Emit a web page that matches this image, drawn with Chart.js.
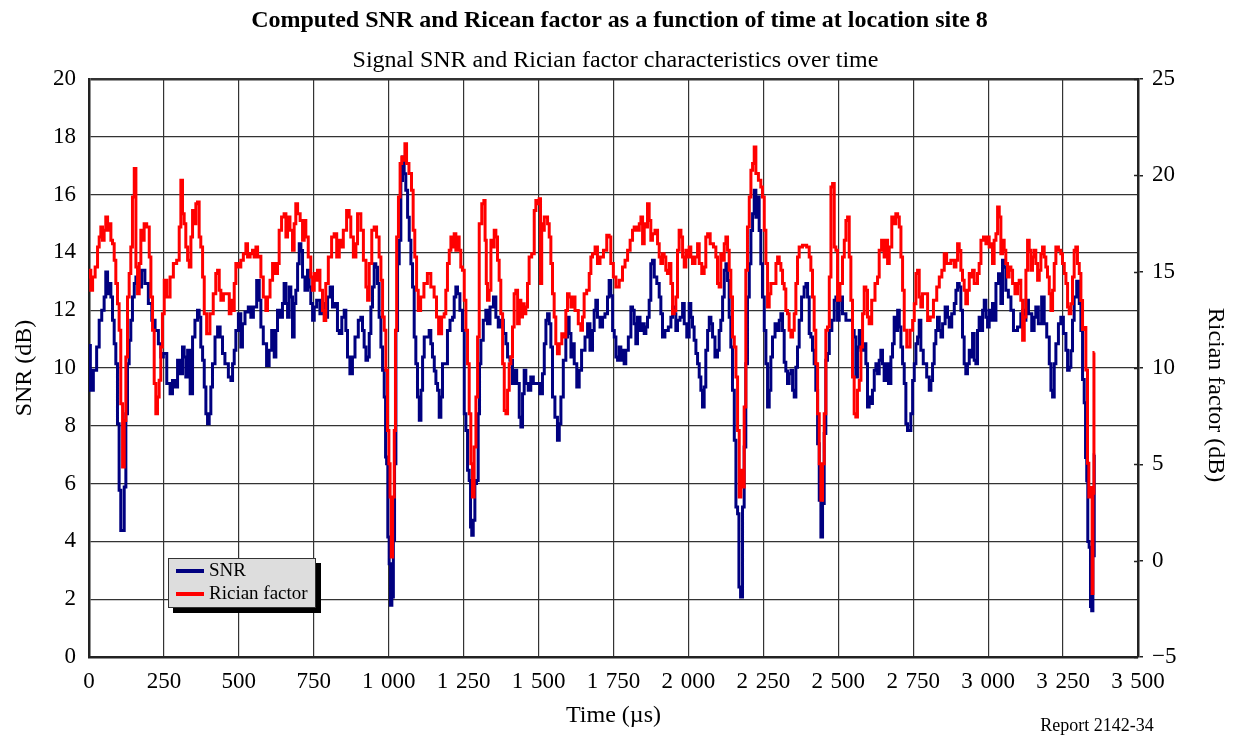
<!DOCTYPE html>
<html>
<head>
<meta charset="utf-8">
<script src="https://cdn.jsdelivr.net/npm/chart.js@4.4.1/dist/chart.umd.min.js"></script>
<style>
  html, body { margin: 0; padding: 0; background: #ffffff; }
  canvas { display: block; }
</style>
</head>
<body>
<canvas id="chart" width="1237" height="736"></canvas>
<script>
// Time samples (µs) and SNR values (dB)
const snrTime = [0,9,20,31,37,48,53,59,65,70,76,81,87,92,98,103,109,115,120,126,131,137,142,148,154,159,170,181,192,204,215,226,237,242,254,265,276,281,293,298,309,315,320,326,332,343,348,359,365,370,376,382,387,393,398,404,409,415,426,432,443,448,459,471,476,482,487,493,504,509,515,526,537,543,554,565,571,576,587,598,604,615,621,626,632,643,648,654,660,665,671,676,682,687,693,699,704,710,715,726,732,737,743,749,754,765,776,787,793,799,810,815,826,832,838,849,854,860,865,876,882,893,904,910,915,921,927,932,938,943,949,954,960,965,971,977,982,988,991,995,999,1004,1008,1013,1018,1021,1027,1032,1038,1043,1049,1054,1060,1066,1071,1077,1082,1088,1093,1099,1105,1110,1116,1121,1132,1138,1143,1149,1155,1160,1166,1171,1177,1182,1193,1199,1210,1216,1221,1227,1232,1243,1249,1255,1260,1266,1271,1275,1279,1285,1290,1296,1301,1305,1310,1321,1327,1332,1344,1355,1360,1371,1377,1388,1394,1399,1410,1416,1421,1433,1438,1444,1449,1455,1460,1471,1477,1488,1499,1510,1516,1522,1527,1533,1538,1544,1549,1560,1566,1572,1577,1588,1594,1599,1605,1611,1616,1622,1633,1638,1649,1661,1666,1677,1683,1688,1694,1699,1711,1716,1727,1733,1738,1744,1750,1755,1761,1766,1772,1777,1783,1788,1794,1805,1811,1816,1822,1827,1833,1844,1850,1855,1861,1866,1872,1877,1883,1889,1900,1905,1911,1916,1927,1939,1944,1950,1955,1961,1966,1978,1983,1989,2000,2005,2011,2016,2022,2028,2033,2039,2044,2050,2055,2061,2067,2072,2078,2083,2094,2100,2105,2111,2117,2122,2128,2133,2139,2144,2150,2156,2161,2167,2170,2178,2183,2189,2194,2200,2206,2211,2217,2222,2228,2233,2239,2244,2250,2256,2261,2267,2272,2278,2283,2295,2300,2306,2311,2317,2322,2328,2333,2339,2345,2350,2356,2361,2367,2372,2383,2389,2395,2400,2406,2411,2417,2422,2428,2434,2439,2445,2450,2456,2461,2467,2473,2484,2489,2495,2500,2506,2511,2517,2534,2545,2550,2556,2561,2567,2573,2578,2589,2595,2600,2606,2611,2617,2623,2628,2634,2639,2645,2650,2656,2662,2673,2678,2684,2689,2695,2701,2706,2712,2717,2723,2728,2734,2739,2745,2751,2756,2762,2767,2773,2778,2789,2801,2806,2812,2817,2823,2828,2834,2840,2845,2851,2862,2867,2873,2884,2890,2895,2901,2906,2912,2917,2923,2928,2934,2940,2945,2951,2956,2962,2967,2973,2979,2984,2990,2995,3001,3006,3012,3017,3023,3029,3040,3045,3051,3056,3062,3073,3079,3090,3106,3112,3118,3123,3129,3140,3151,3156,3162,3173,3184,3190,3201,3207,3212,3218,3223,3229,3240,3245,3257,3262,3268,3273,3279,3284,3290,3301,3307,3312,3318,3323,3327,3331,3334,3340,3343,3348,3351,3357];
const snrDb = [10.78,9.23,9.92,10.73,11.65,12.0,12.46,13.32,12.57,12.92,12.46,11.65,10.84,10.15,8.07,5.77,4.38,4.38,5.88,8.42,10.15,10.96,11.65,12.46,12.92,13.15,12.8,13.38,12.92,12.23,11.65,11.3,10.84,10.38,10.5,9.46,9.11,9.57,9.34,10.27,9.8,10.73,10.38,9.69,10.61,9.11,11.07,11.65,12.0,11.76,10.73,10.27,9.34,8.42,8.07,8.42,9.34,10.15,11.07,11.42,11.07,10.5,10.15,9.69,9.57,10.15,10.61,11.3,11.88,10.73,11.53,11.94,12.11,11.76,12.11,13.03,12.34,11.42,10.84,10.09,10.61,11.3,10.38,11.3,12.0,11.76,12.23,12.92,12.23,11.76,12.8,12.46,11.07,12.23,12.69,13.61,14.3,14.07,13.15,12.69,13.38,12.8,12.23,11.65,12.11,12.34,11.88,12.23,11.76,12.46,12.8,12.11,12.23,11.3,11.19,11.76,12.0,11.3,10.38,9.8,10.38,11.07,11.65,11.76,11.3,10.73,10.27,10.38,11.19,12.11,12.8,13.61,13.49,12.92,11.76,10.73,9.92,9.0,6.92,6.69,4.15,3.23,1.79,2.08,4.04,6.69,11.3,13.61,14.42,16.49,17.3,16.72,16.15,15.22,14.42,13.61,12.8,11.07,10.15,9.0,8.19,9.23,10.38,11.07,11.07,11.3,10.84,10.38,9.9,9.46,9.23,8.3,9.0,10.15,10.15,11.3,11.65,11.76,12.46,12.8,12.57,12.0,11.3,8.42,7.84,6.46,6.11,4.5,4.21,4.73,6.0,6.11,8.42,10.15,10.96,11.65,12.0,11.53,12.11,12.46,11.76,11.42,11.65,11.19,10.84,10.38,10.27,9.46,9.92,9.46,8.3,7.96,9.11,9.92,9.46,9.23,9.69,9.46,9.46,9.11,9.8,10.84,11.65,11.88,11.53,10.73,9.0,8.3,7.5,8.07,9.0,10.27,11.07,11.76,11.19,10.38,10.84,10.15,9.34,9.92,10.61,11.07,11.53,10.61,11.3,12.0,12.34,11.76,11.42,11.76,11.88,12.46,13.03,12.5,11.3,11.07,10.38,10.27,10.73,10.27,10.61,10.15,10.61,11.07,12.11,12.0,11.53,10.84,11.76,11.3,11.53,11.19,11.42,11.76,12.34,13.61,13.73,13.15,12.92,12.46,11.88,11.07,11.3,11.42,11.76,12.11,11.88,11.3,11.65,11.76,12.23,11.53,11.07,12.23,11.76,11.42,10.96,10.5,10.15,9.69,9.23,8.65,9.34,10.61,11.3,11.76,11.53,11.07,10.38,10.61,11.3,11.65,12.46,13.38,13.61,13.03,11.76,10.73,9.23,7.5,5.19,4.96,2.42,2.08,5.19,7.27,10.15,12.46,13.61,14.76,15.34,16.15,15.22,15.92,14.76,13.61,12.46,11.3,10.15,8.65,9.23,10.38,11.07,11.53,11.3,11.65,11.88,11.3,10.2,9.9,9.46,9.8,9.92,9.23,9.0,10.03,10.73,11.65,12.46,12.8,12.92,12.46,11.19,11.07,10.61,10.15,9.23,7.38,5.42,4.15,5.31,7.73,10.27,10.5,11.3,11.65,12.34,12.46,11.65,12.34,12.46,11.88,11.65,11.65,11.3,11.07,9.69,10.73,11.3,10.61,10.84,10.15,8.65,9.0,8.77,9.23,9.92,10.15,9.8,10.27,10.61,10.15,9.57,10.15,9.46,10.38,10.84,11.76,11.3,12.0,11.42,10.73,10.15,9.46,8.07,7.84,7.84,8.42,9.57,10.15,10.84,11.07,11.65,10.61,10.15,9.69,9.23,9.57,10.15,10.84,11.3,11.76,11.3,11.07,11.53,12.11,11.76,11.42,11.88,12.23,12.69,12.92,12.8,12.0,11.07,10.15,9.8,10.15,10.61,10.38,11.19,10.27,10.15,11.3,11.76,11.3,12.0,12.34,11.76,11.42,12.0,11.65,12.23,11.65,12.92,13.26,12.23,13.73,13.49,12.69,12.46,12.0,11.3,11.42,11.88,12.0,11.65,12.34,11.88,11.3,11.76,12.11,11.53,12.46,11.53,11.07,10.15,9.23,9.0,10.15,10.84,11.53,11.76,11.19,10.61,9.92,10.03,10.6,11.65,12.46,13.0,12.23,11.3,9.6,8.8,6.9,6.1,4.0,3.8,1.75,1.6,3.5,7.0];

// Time samples (µs) and Rician factor values (dB)
const ricianTime = [0,3,9,15,26,31,37,42,48,53,59,65,70,76,81,87,92,98,103,109,115,120,126,131,137,142,148,154,159,165,170,176,181,187,198,204,209,215,220,226,231,237,242,248,254,265,276,287,298,304,309,315,320,326,332,337,343,348,354,359,365,370,376,382,387,398,409,420,426,432,437,443,454,465,471,476,482,487,493,504,509,521,526,532,543,548,554,560,565,571,576,587,593,598,610,615,626,632,637,648,654,660,665,676,682,687,693,699,710,715,721,726,737,743,749,754,760,765,776,782,787,793,804,815,821,832,838,843,854,865,871,876,888,893,899,904,910,921,927,932,938,949,954,965,971,977,982,988,993,999,1002,1007,1010,1016,1021,1024,1029,1036,1040,1047,1051,1057,1062,1073,1079,1084,1090,1096,1101,1112,1123,1135,1146,1157,1162,1171,1182,1188,1193,1199,1205,1210,1216,1221,1227,1232,1238,1243,1249,1255,1260,1266,1271,1277,1282,1288,1294,1299,1305,1316,1319,1324,1327,1332,1338,1344,1349,1355,1360,1366,1371,1377,1383,1388,1394,1399,1405,1410,1416,1421,1427,1433,1438,1444,1449,1455,1460,1466,1471,1483,1488,1494,1499,1505,1508,1513,1516,1522,1527,1533,1538,1544,1549,1555,1560,1566,1572,1583,1588,1594,1599,1605,1611,1616,1627,1638,1644,1649,1655,1666,1672,1677,1683,1694,1699,1711,1722,1733,1738,1744,1755,1761,1777,1783,1794,1800,1811,1816,1822,1833,1839,1844,1850,1855,1861,1866,1872,1877,1883,1894,1900,1905,1911,1916,1922,1927,1933,1939,1944,1950,1955,1961,1966,1972,1978,1983,1989,1994,2000,2005,2011,2016,2028,2033,2039,2050,2055,2061,2067,2078,2089,2094,2100,2105,2111,2117,2122,2128,2133,2139,2144,2150,2156,2161,2167,2172,2178,2183,2189,2194,2200,2206,2211,2217,2222,2228,2239,2244,2250,2256,2261,2267,2272,2278,2289,2295,2300,2306,2311,2317,2322,2328,2333,2339,2345,2350,2356,2361,2367,2372,2389,2400,2406,2411,2417,2422,2428,2434,2439,2445,2450,2456,2461,2467,2473,2478,2484,2489,2495,2500,2511,2517,2523,2528,2534,2539,2545,2550,2556,2561,2567,2573,2578,2584,2589,2595,2600,2606,2617,2628,2634,2639,2650,2656,2662,2667,2673,2684,2689,2695,2701,2706,2712,2717,2723,2734,2745,2751,2756,2762,2767,2773,2778,2784,2795,2801,2812,2823,2834,2840,2851,2856,2867,2884,2890,2895,2901,2906,2912,2917,2923,2928,2934,2940,2945,2951,2956,2962,2967,2973,2979,2990,2995,3001,3006,3012,3017,3023,3029,3034,3040,3045,3051,3056,3062,3067,3073,3079,3084,3095,3101,3106,3112,3118,3123,3129,3134,3140,3145,3151,3156,3162,3168,3173,3179,3184,3190,3195,3201,3207,3212,3218,3223,3229,3240,3245,3251,3257,3262,3268,3273,3279,3284,3290,3295,3301,3307,3312,3318,3323,3329,3334,3338,3342,3346,3348,3351,3355];
const ricianDb = [14.72,15.07,14.03,14.72,15.24,16.28,16.8,17.32,16.63,17.15,17.84,17.15,17.49,16.63,16.45,15.59,14.38,13.34,11.96,8.15,4.86,7.28,10.57,13.69,14.9,16.28,18.88,20.35,15.24,13.86,15.42,17.15,16.63,17.49,17.32,15.76,13.69,11.96,9.19,7.63,8.49,9.36,11.09,12.82,14.55,13.69,14.72,15.42,15.59,17.32,19.74,18.01,17.49,16.28,15.59,15.24,16.8,18.18,17.49,18.53,18.62,16.8,16.28,14.72,12.82,11.78,12.82,13.86,14.9,15.07,14.03,13.51,13.86,13.86,12.82,13.51,12.99,14.38,15.42,15.24,15.59,15.93,16.45,15.76,15.93,16.11,15.76,16.28,15.76,15.8,14.72,13.69,12.99,13.69,14.55,15.42,14.9,15.42,17.15,17.84,18.01,16.8,17.84,17.15,16.11,17.49,18.53,18.01,17.66,16.63,17.66,16.8,15.76,14.72,14.03,14.9,14.55,15.07,14.03,12.99,12.47,14.38,15.76,16.8,16.97,15.76,16.63,16.28,17.15,18.18,17.84,16.8,15.76,16.45,18.01,18.01,17.15,15.59,14.2,13.51,15.42,17.15,17.32,16.8,15.76,14.55,12.65,11.96,9.88,6.76,5.03,3.3,0.19,3.3,6.76,11.96,16.8,18.88,20.61,20.95,20.78,21.64,20.61,20.09,19.22,17.15,15.76,14.03,12.99,13.69,14.38,14.9,14.2,13.69,12.65,11.78,12.65,12.82,14.03,15.42,16.11,16.8,16.28,16.97,16.11,16.8,16.11,15.24,15.07,13.51,11.96,10.22,7.63,5.03,3.3,5.9,8.49,11.61,17.49,18.53,18.7,16.63,14.38,13.51,14.03,16.63,16.28,17.15,16.8,15.59,14.55,12.82,10.22,7.8,7.63,8.84,10.22,10.57,12.13,13.86,14.03,12.3,13.51,12.65,13.34,12.82,13.17,14.38,15.76,15.93,18.18,18.7,18.53,18.79,14.38,17.49,17.15,17.84,17.84,17.49,16.8,15.42,13.86,12.65,11.26,10.74,11.26,11.78,11.61,12.99,13.86,13.69,13.17,13.69,12.99,12.3,11.96,12.65,13.86,14.03,14.9,15.76,15.93,16.28,15.42,15.76,16.11,16.89,16.8,15.42,14.72,14.2,14.55,15.24,15.59,16.11,16.63,17.15,17.32,17.15,17.49,17.84,16.45,17.49,17.32,18.53,17.66,16.63,16.97,17.15,16.45,15.76,15.42,15.93,15.76,15.07,14.9,15.42,14.38,12.82,12.99,13.69,16.11,17.15,16.8,15.76,15.24,16.11,15.76,16.28,15.76,15.42,15.76,16.45,15.42,14.9,15.24,16.8,16.97,16.45,16.28,15.76,14.38,14.2,15.93,15.59,16.45,16.8,16.11,15.07,13.69,11.61,11.09,9.53,6.76,3.3,4.69,3.82,7.98,15.07,17.32,18.88,20.26,20.61,21.47,20.09,19.74,19.39,18.88,17.15,15.42,13.17,13.86,14.38,14.38,15.42,15.76,15.42,15.07,14.38,14.1,12.99,12.82,11.96,11.61,11.96,12.82,14.38,15.76,16.28,16.37,16.28,15.76,15.07,13.69,11.96,10.22,7.63,5.03,3.13,5.03,7.63,11.96,12.13,14.72,19.39,19.57,16.28,16.11,13.51,14.38,15.76,16.63,17.66,17.84,15.76,13.51,9.53,7.63,7.46,8.84,9.36,11.09,12.82,14.2,14.03,12.65,12.3,13.51,14.38,14.72,16.11,16.63,15.76,16.63,15.42,16.28,17.84,17.49,18.01,17.84,17.32,15.76,14.03,11.96,11.09,11.96,12.47,13.34,14.9,15.07,13.69,13.17,13.86,13.86,12.47,12.65,13.51,14.2,14.72,15.07,15.93,15.42,15.59,15.24,15.59,16.45,16.1,15.07,14.55,14.03,13.34,14.03,14.9,14.72,15.07,14.38,14.38,14.9,15.42,16.63,16.8,16.45,16.8,16.28,16.45,15.42,16.63,16.97,18.36,17.84,15.93,16.63,16.11,15.42,14.72,15.24,15.07,14.38,13.86,14.38,14.55,13.51,11.44,12.65,15.07,16.63,16.11,15.07,15.76,16.11,15.42,14.55,15.07,15.93,16.28,15.76,15.24,14.72,13.86,12.99,14.03,15.42,16.28,16.11,15.93,15.42,14.9,14.38,13.17,12.82,13.34,14.72,16.11,16.28,15.42,14.9,13.5,12.0,12.1,9.9,5.05,3.3,3.8,3.3,-1.7,3.5,10.8];

// Axis ranges and tick steps
const timeRange = [0, 3500];
const timeStep = 250;
const snrRange = [0, 20];
const snrStep = 2;
const ricianRange = [-5, 25];
const ricianStep = 5;

const seriesNames = ['SNR', 'Rician factor'];
const seriesColors = ['#000080', '#ff0000'];

const chartTitle = 'Computed SNR and Ricean factor as a function of time at location site 8';
const chartSubtitle = 'Signal SNR and Rician factor characteristics over time';
const reportLabel = 'Report 2142-34';
const rightAxisTitle = 'Rician factor (dB)';

const SERIF = "'Liberation Serif', 'Times New Roman', serif";
const GRID = '#333333';
const FRAME = '#222222';

function toPoints(xs, ys) {
  return xs.map((x, i) => ({ x: x, y: ys[i] }));
}

function formatTime(v) {
  if (v >= 1000) {
    return Math.floor(v / 1000) + '\u2004' + String(v % 1000).padStart(3, '0');
  }
  return String(v);
}

// Titles, report number, right axis title, boxed legend and inner right-axis ticks
const decorations = {
  id: 'decorations',
  afterDatasetsDraw(chart) {
    const ctx = chart.ctx;
    const y2 = chart.scales.y2;
    ctx.save();
    ctx.strokeStyle = FRAME;
    ctx.lineWidth = 1.5;
    y2.ticks.forEach(t => {
      const py = Math.round(y2.getPixelForValue(t.value)) + 0.5;
      ctx.beginPath();
      ctx.moveTo(y2.left - 4, py);
      ctx.lineTo(y2.left, py);
      ctx.stroke();
    });
    ctx.restore();
  },
  afterDraw(chart) {
    const ctx = chart.ctx;
    const w = chart.width;
    ctx.save();
    ctx.fillStyle = '#000';
    ctx.textAlign = 'center';
    ctx.textBaseline = 'middle';
    ctx.font = 'bold 24px ' + SERIF;
    ctx.fillText(chartTitle, w / 2 + 1, 21);
    ctx.font = '24px ' + SERIF;
    ctx.fillText(chartSubtitle, w / 2 - 3, 61);
    ctx.font = '18px ' + SERIF;
    ctx.fillText(reportLabel, 1097, 726);

    // right axis title, reading downwards
    ctx.save();
    ctx.translate(1215, 395);
    ctx.rotate(Math.PI / 2);
    ctx.font = '24px ' + SERIF;
    ctx.fillText(rightAxisTitle, 0, 0);
    ctx.restore();

    // legend box with drop shadow
    const bx = 168, by = 558, bw = 148, bh = 50;
    ctx.fillStyle = '#000';
    ctx.fillRect(bx + 5, by + 5, bw, bh);
    ctx.fillStyle = '#dddddd';
    ctx.fillRect(bx, by, bw, bh);
    ctx.strokeStyle = '#333';
    ctx.lineWidth = 1;
    ctx.strokeRect(bx + 0.5, by + 0.5, bw - 1, bh - 1);
    ctx.textAlign = 'left';
    ctx.font = '19px ' + SERIF;
    chart.data.datasets.forEach((ds, i) => {
      const ly = by + 13 + i * 23;
      ctx.strokeStyle = ds.borderColor;
      ctx.lineWidth = 4;
      ctx.beginPath();
      ctx.moveTo(bx + 8, ly);
      ctx.lineTo(bx + 36, ly);
      ctx.stroke();
      ctx.fillStyle = '#000';
      ctx.fillText(ds.label, bx + 41, ly);
    });
    ctx.restore();
  }
};

new Chart(document.getElementById('chart'), {
  type: 'line',
  data: {
    datasets: [
      {
        label: seriesNames[0],
        data: toPoints(snrTime, snrDb),
        yAxisID: 'y',
        borderColor: seriesColors[0],
        backgroundColor: seriesColors[0],
        borderWidth: 3,
        pointRadius: 0,
        stepped: 'middle',
        order: 2
      },
      {
        label: seriesNames[1],
        data: toPoints(ricianTime, ricianDb),
        yAxisID: 'y2',
        borderColor: seriesColors[1],
        backgroundColor: seriesColors[1],
        borderWidth: 3,
        pointRadius: 0,
        stepped: 'middle',
        order: 1
      }
    ]
  },
  options: {
    responsive: false,
    animation: false,
    devicePixelRatio: 1,
    parsing: false,
    normalized: true,
    layout: { padding: { top: 79, left: 0, right: 0, bottom: 0 } },
    plugins: {
      legend: { display: false },
      title: { display: false },
      tooltip: { enabled: false }
    },
    scales: {
      x: {
        type: 'linear',
        min: timeRange[0],
        max: timeRange[1],
        afterFit(scale) { scale.height = 79; },
        ticks: {
          stepSize: timeStep,
          padding: 11,
          color: '#000',
          font: { family: SERIF, size: 23 },
          maxRotation: 0,
          autoSkip: false,
          callback: v => formatTime(v)
        },
        grid: {
          color: GRID,
          lineWidth: 1.2,
          drawTicks: false
        },
        border: { display: true, color: FRAME, width: 2.5 },
        title: {
          display: true,
          text: 'Time (µs)',
          color: '#000',
          font: { family: SERIF, size: 24 },
          padding: { top: 0, bottom: 6 }
        }
      },
      y: {
        type: 'linear',
        position: 'left',
        min: snrRange[0],
        max: snrRange[1],
        afterFit(scale) { scale.width = 89; },
        ticks: {
          stepSize: snrStep,
          padding: 13,
          color: '#000',
          font: { family: SERIF, size: 23 }
        },
        grid: {
          color: GRID,
          lineWidth: ctx => (ctx.tick && ctx.tick.value === snrRange[1]) ? 2.5 : 1.2,
          drawTicks: false
        },
        border: { display: true, color: FRAME, width: 2.5 },
        title: {
          display: true,
          text: 'SNR (dB)',
          color: '#000',
          font: { family: SERIF, size: 24 },
          padding: { top: 10, bottom: 0 }
        }
      },
      y2: {
        type: 'linear',
        position: 'right',
        min: ricianRange[0],
        max: ricianRange[1],
        afterFit(scale) { scale.width = 99; },
        ticks: {
          stepSize: ricianStep,
          padding: 9,
          color: '#000',
          font: { family: SERIF, size: 23 },
          callback: v => (v < 0 ? '\u2212' + Math.abs(v) : String(v))
        },
        grid: {
          drawOnChartArea: false,
          drawTicks: true,
          tickLength: 5,
          color: FRAME,
          lineWidth: 1.5
        },
        border: { display: true, color: FRAME, width: 2.5 },
        title: { display: false }
      }
    }
  },
  plugins: [decorations]
});
</script>
</body>
</html>
